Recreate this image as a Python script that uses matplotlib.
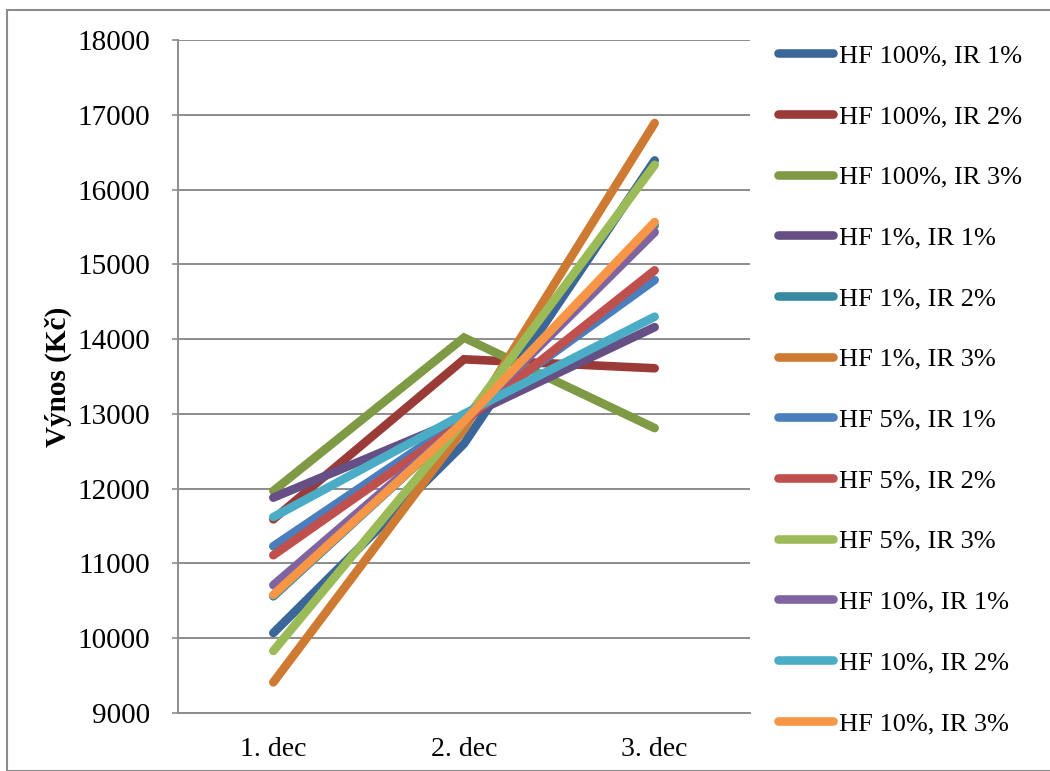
import matplotlib
matplotlib.use("Agg")
import matplotlib.pyplot as plt
from matplotlib.patches import Rectangle

# Yield per decade for each HF / IR scenario
categories = ["1. dec", "2. dec", "3. dec"]

hf100_ir1 = [10070, 12600, 16390]
hf100_ir2 = [11590, 13730, 13610]
hf100_ir3 = [11970, 14020, 12810]
hf1_ir1 = [11880, 12950, 14160]
hf1_ir2 = [10560, 12900, 15520]
hf1_ir3 = [9410, 12800, 16890]
hf5_ir1 = [11230, 12950, 14790]
hf5_ir2 = [11110, 12900, 14920]
hf5_ir3 = [9830, 12900, 16330]
hf10_ir1 = [10710, 12900, 15430]
hf10_ir2 = [11620, 13000, 14300]
hf10_ir3 = [10580, 12900, 15565]

series_names = [
    "HF 100%, IR 1%", "HF 100%, IR 2%", "HF 100%, IR 3%",
    "HF 1%, IR 1%", "HF 1%, IR 2%", "HF 1%, IR 3%",
    "HF 5%, IR 1%", "HF 5%, IR 2%", "HF 5%, IR 3%",
    "HF 10%, IR 1%", "HF 10%, IR 2%", "HF 10%, IR 3%",
]
series_values = [
    hf100_ir1, hf100_ir2, hf100_ir3,
    hf1_ir1, hf1_ir2, hf1_ir3,
    hf5_ir1, hf5_ir2, hf5_ir3,
    hf10_ir1, hf10_ir2, hf10_ir3,
]
series_colors = [
    "#3B6699", "#9B3B38", "#7F9A45",
    "#664F84", "#37899F", "#CE7A32",
    "#4A7EBD", "#C0504D", "#9BBB59",
    "#8064A2", "#4BACC6", "#F79646",
]

y_ticks = list(range(9000, 18001, 1000))

plt.rcParams["font.family"] = ["Liberation Serif", "DejaVu Serif"]

W, H = 1050, 771
fig = plt.figure(figsize=(W / 100, H / 100), dpi=100)
fig.patch.set_facecolor("white")

# outer chart border
fig.add_artist(Rectangle((7 / W, 0), 1.2, 1 - 10 / H, transform=fig.transFigure,
                         fill=False, edgecolor="#8c8c8c", linewidth=1.5))

ax = fig.add_axes([178 / W, 1 - 713 / H, (750 - 178) / W, (713 - 40) / H])

x = list(range(len(categories)))
for name, vals, col in zip(series_names, series_values, series_colors):
    ax.plot(x, vals, color=col, linewidth=6.2, solid_capstyle="round",
            solid_joinstyle="miter", label=name)

ax.set_xlim(-0.5, len(categories) - 0.5)
ax.set_ylim(9000, 18000)
ax.set_yticks(y_ticks)
ax.set_xticks(x)
ax.set_xticklabels(categories)

ax.yaxis.grid(True, color="#8c8c8c", linewidth=1.4)
ax.set_axisbelow(True)
for side in ("top", "right"):
    ax.spines[side].set_visible(False)
for side in ("left", "bottom"):
    ax.spines[side].set_color("#8c8c8c")
    ax.spines[side].set_linewidth(1.4)

ax.tick_params(axis="y", labelsize=21, length=4, width=1.2, color="#8c8c8c", pad=16)
ax.tick_params(axis="x", labelsize=20, length=0, pad=17)

ax.set_ylabel("Výnos (Kč)", fontsize=21, fontweight="bold", va="center")
ax.yaxis.set_label_coords(-0.21, 0.5)

leg = ax.legend(loc="upper left", bbox_to_anchor=(778 / W, 1 - 44 / H),
                bbox_transform=fig.transFigure, frameon=False, fontsize=19,
                handlelength=2.1, handletextpad=0.2, labelspacing=1.41,
                borderpad=0, borderaxespad=0)
for h in leg.get_lines():
    h.set_linewidth(6.2)
    h.set_solid_capstyle("round")

fig.savefig("out.png", dpi=100)
